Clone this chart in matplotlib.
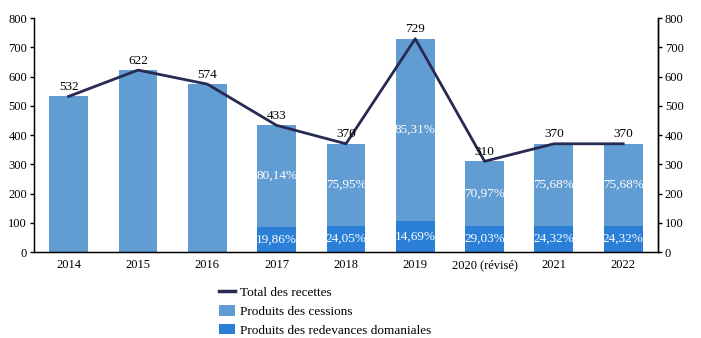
import matplotlib
matplotlib.use("Agg")
import matplotlib.pyplot as plt
from matplotlib.lines import Line2D
from matplotlib.patches import Patch

plt.rcParams['font.family'] = ['Liberation Serif', 'DejaVu Serif']

years = ["2014", "2015", "2016", "2017", "2018", "2019", "2020 (révisé)", "2021", "2022"]
totals = [532, 622, 574, 433, 370, 729, 310, 370, 370]
redevances = [0, 0, 0, 86, 89, 107, 90, 90, 90]
pct_cessions = [None, None, None, "80,14%", "75,95%", "85,31%", "70,97%", "75,68%", "75,68%"]
pct_redevances = [None, None, None, "19,86%", "24,05%", "14,69%", "29,03%", "24,32%", "24,32%"]

cessions = [t - r for t, r in zip(totals, redevances)]

c_cess = "#619dd2"
c_redev = "#2b7fd6"
c_line = "#272a52"

fig = plt.figure(figsize=(7.01, 3.38), dpi=100)
ax = fig.add_axes([0.0485, 0.2544, 0.89, 0.6923])
x = list(range(len(years)))
w = 0.56

ax.bar(x, redevances, width=w, color=c_redev, zorder=2)
ax.bar(x, cessions, width=w, bottom=redevances, color=c_cess, zorder=2)
ax.plot(x, totals, color=c_line, lw=2, zorder=3)

for i in x:
    ax.text(i, totals[i] + 12, str(totals[i]), ha="center", va="bottom", fontsize=9.5, color="black", zorder=4)
    if pct_cessions[i]:
        ax.text(i, redevances[i] + cessions[i] / 2, pct_cessions[i], ha="center", va="center",
                fontsize=9.5, color="white", zorder=4)
        ax.text(i, redevances[i] / 2, pct_redevances[i], ha="center", va="center",
                fontsize=9.5, color="white", zorder=4)

ax.set_xlim(-0.5, 8.5)
ax.set_ylim(0, 800)
ax.set_yticks(range(0, 801, 100))
ax.set_xticks(x)
ax.set_xticklabels(years, fontsize=9)
ax.tick_params(axis="x", length=0, pad=5)
ax.tick_params(axis="y", labelsize=9, length=3, width=1, pad=2)
ax.spines["top"].set_visible(False)
for s in ("left", "right", "bottom"):
    ax.spines[s].set_linewidth(1)
    ax.spines[s].set_color("black")

ax2 = ax.twinx()
ax2.set_ylim(0, 800)
ax2.set_yticks(range(0, 801, 100))
ax2.tick_params(axis="y", labelsize=9, length=3, width=1, pad=2)
ax2.spines["top"].set_visible(False)
ax2.spines["right"].set_linewidth(1)

handles = [
    Line2D([0], [0], color=c_line, lw=2.5),
    Patch(facecolor=c_cess),
    Patch(facecolor=c_redev),
]
labels = ["Total des recettes", "Produits des cessions", "Produits des redevances domaniales"]
fig.legend(handles, labels, loc="upper left", bbox_to_anchor=(0.312, 0.155), frameon=False,
           fontsize=9.5, handlelength=1.25, handleheight=0.9, handletextpad=0.35, labelspacing=0.45,
           borderpad=0, borderaxespad=0)

fig.savefig("out.png", dpi=100)
